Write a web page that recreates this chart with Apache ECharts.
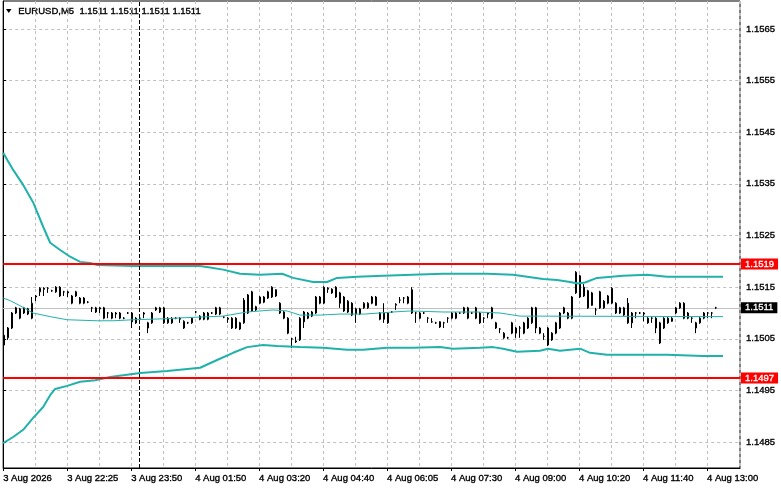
<!DOCTYPE html>
<html>
<head>
<meta charset="utf-8">
<title>EURUSD,M5</title>
<script src="https://cdn.jsdelivr.net/npm/echarts@6/dist/echarts.min.js"></script>
<style>
  html, body { margin: 0; padding: 0; background: #fff; }
  #chart { width: 781px; height: 489px; }
</style>
</head>
<body>
<div id="chart"></div>
<script>
const symbol = "EURUSD";
const timeframe = "M5";
const lastQuote = [1.1511, 1.1511, 1.1511, 1.1511];

const timeLabels = ["3 Aug 2026", "3 Aug 22:25", "3 Aug 23:50", "4 Aug 01:50", "4 Aug 03:20", "4 Aug 04:40",
  "4 Aug 06:05", "4 Aug 07:30", "4 Aug 09:00", "4 Aug 10:20", "4 Aug 11:40", "4 Aug 13:00"];
const priceTicks = [1.1485, 1.1495, 1.1505, 1.1515, 1.1525, 1.1535, 1.1545, 1.1555, 1.1565];

// M5 bars, oldest first
const opens = [
  1.15038, 1.15052, 1.15071, 1.1511, 1.1509, 1.1511, 1.15108, 1.1509, 1.15131, 1.15141,
  1.15148, 1.15148, 1.15143, 1.1515, 1.1515, 1.15141, 1.15141, 1.15119, 1.15141, 1.15119,
  1.15119, 1.15121, 1.1511, 1.15102, 1.1511, 1.1511, 1.151, 1.1509, 1.151, 1.1509,
  1.1509, 1.151, 1.151, 1.1509, 1.1509, 1.15098, 1.15081, 1.15081, 1.15106, 1.15102,
  1.1511, 1.15081, 1.1509, 1.1509, 1.1509, 1.15071, 1.15081, 1.15081, 1.15102, 1.15094,
  1.151, 1.151, 1.151, 1.1511, 1.1511, 1.15092, 1.1509, 1.1509, 1.1509, 1.15081,
  1.15081, 1.151, 1.15141, 1.15112, 1.15131, 1.15131, 1.15129, 1.15131, 1.15145, 1.15119,
  1.1509, 1.1509, 1.1505, 1.15044, 1.15048, 1.15083, 1.151, 1.15094, 1.151, 1.15119,
  1.15119, 1.15146, 1.15146, 1.1515, 1.15139, 1.15131, 1.15102, 1.15119, 1.15108, 1.15108,
  1.1511, 1.1511, 1.15131, 1.15131, 1.151, 1.151, 1.151, 1.15102, 1.15115, 1.15125,
  1.15129, 1.15119, 1.15145, 1.151, 1.151, 1.151, 1.1509, 1.15083, 1.15081, 1.15083,
  1.15081, 1.1509, 1.1509, 1.1509, 1.151, 1.1511, 1.1509, 1.151, 1.1511, 1.151,
  1.1509, 1.15098, 1.1511, 1.15081, 1.15069, 1.15052, 1.15052, 1.15061, 1.15061, 1.15071,
  1.15061, 1.1509, 1.15081, 1.1511, 1.15071, 1.15055, 1.15038, 1.15061, 1.15061, 1.15071,
  1.1511, 1.1509, 1.1509, 1.15139, 1.15172, 1.1515, 1.15143, 1.15139, 1.15106, 1.15141,
  1.15123, 1.15119, 1.15119, 1.15119, 1.1511, 1.15096, 1.15119, 1.151, 1.151, 1.151,
  1.151, 1.1509, 1.1509, 1.1509, 1.15042, 1.15071, 1.1509, 1.15084, 1.151, 1.15119,
  1.15119, 1.151, 1.1509, 1.15081, 1.15081, 1.1509, 1.151, 1.151, 1.1511
];
const closes = [
  1.15057, 1.15071, 1.151, 1.151, 1.15108, 1.151, 1.15098, 1.15119, 1.15133, 1.15148,
  1.15146, 1.15148, 1.15143, 1.15141, 1.15133, 1.15141, 1.15139, 1.15133, 1.15133, 1.15129,
  1.15129, 1.15121, 1.1511, 1.1511, 1.15108, 1.1509, 1.151, 1.151, 1.15098, 1.151,
  1.1509, 1.151, 1.15083, 1.15081, 1.1509, 1.151, 1.15071, 1.151, 1.1511, 1.1511,
  1.15081, 1.1509, 1.15081, 1.1509, 1.15088, 1.15084, 1.15081, 1.1509, 1.15102, 1.15088,
  1.15088, 1.15088, 1.151, 1.15098, 1.15098, 1.15092, 1.15088, 1.15071, 1.15071, 1.15069,
  1.15125, 1.15135, 1.15104, 1.15106, 1.15119, 1.15121, 1.15141, 1.1515, 1.15133, 1.151,
  1.15102, 1.15061, 1.1505, 1.15046, 1.1509, 1.15102, 1.1509, 1.15102, 1.15131, 1.15131,
  1.1515, 1.15148, 1.15139, 1.15131, 1.15119, 1.15104, 1.15123, 1.15096, 1.15098, 1.15098,
  1.15119, 1.15119, 1.15119, 1.15115, 1.15088, 1.15088, 1.15081, 1.15102, 1.15117, 1.15125,
  1.15129, 1.15131, 1.151, 1.151, 1.1509, 1.151, 1.1509, 1.15083, 1.15081, 1.15073,
  1.15081, 1.1509, 1.151, 1.151, 1.151, 1.151, 1.1511, 1.151, 1.1509, 1.15081,
  1.1509, 1.151, 1.1509, 1.15071, 1.15069, 1.15061, 1.15052, 1.15081, 1.15071, 1.15071,
  1.15081, 1.15071, 1.1511, 1.15071, 1.15061, 1.15055, 1.15071, 1.15048, 1.15081, 1.151,
  1.151, 1.151, 1.15131, 1.15179, 1.15131, 1.15133, 1.1511, 1.15115, 1.15106, 1.1511,
  1.1511, 1.15133, 1.15148, 1.151, 1.151, 1.1511, 1.15081, 1.15081, 1.151, 1.151,
  1.15098, 1.15081, 1.1509, 1.15071, 1.15081, 1.1509, 1.15081, 1.1509, 1.1511, 1.1511,
  1.1509, 1.1509, 1.1509, 1.15071, 1.1509, 1.151, 1.151, 1.151, 1.1511
];
const highs = [
  1.15061, 1.15073, 1.15102, 1.15112, 1.1511, 1.15112, 1.1511, 1.15131, 1.15135, 1.1515,
  1.1515, 1.1515, 1.15145, 1.15152, 1.15152, 1.15143, 1.15143, 1.15135, 1.15143, 1.15131,
  1.15131, 1.15123, 1.15112, 1.15112, 1.15112, 1.15112, 1.15102, 1.15102, 1.15102, 1.15102,
  1.15092, 1.15102, 1.15102, 1.15092, 1.15092, 1.15102, 1.15083, 1.15102, 1.15112, 1.15112,
  1.15112, 1.15092, 1.15092, 1.15092, 1.15092, 1.15086, 1.15083, 1.15092, 1.15104, 1.15096,
  1.15102, 1.15102, 1.15102, 1.15112, 1.15112, 1.15094, 1.15092, 1.15092, 1.15092, 1.15083,
  1.15129, 1.15137, 1.15143, 1.15114, 1.15133, 1.15133, 1.15143, 1.15152, 1.15146, 1.15121,
  1.15104, 1.15092, 1.15052, 1.15054, 1.15092, 1.15104, 1.15102, 1.15104, 1.15133, 1.15133,
  1.15152, 1.1515, 1.15148, 1.15152, 1.15141, 1.15133, 1.15125, 1.15121, 1.1511, 1.1511,
  1.15121, 1.15121, 1.15133, 1.15133, 1.15102, 1.15119, 1.15102, 1.15104, 1.15119, 1.15131,
  1.15131, 1.15133, 1.1515, 1.15102, 1.15102, 1.15102, 1.15092, 1.1509, 1.15083, 1.15084,
  1.15083, 1.15092, 1.15102, 1.15102, 1.15102, 1.15112, 1.15112, 1.15102, 1.15112, 1.15102,
  1.15092, 1.15102, 1.15112, 1.15083, 1.15071, 1.15063, 1.15054, 1.15083, 1.15073, 1.15075,
  1.15083, 1.15092, 1.15112, 1.15112, 1.15073, 1.15061, 1.15073, 1.15063, 1.15083, 1.15102,
  1.15112, 1.15102, 1.15133, 1.15181, 1.15174, 1.15156, 1.15145, 1.15141, 1.1511, 1.15143,
  1.15125, 1.15135, 1.1515, 1.15121, 1.15112, 1.15112, 1.15129, 1.15102, 1.15102, 1.15102,
  1.15102, 1.15092, 1.15092, 1.15092, 1.15083, 1.15092, 1.15092, 1.15092, 1.15112, 1.15121,
  1.15121, 1.15102, 1.15092, 1.15083, 1.15092, 1.15102, 1.15102, 1.15102, 1.15112
];
const lows = [
  1.15028, 1.15048, 1.15069, 1.15098, 1.15088, 1.15098, 1.15096, 1.15088, 1.15123, 1.15133,
  1.15133, 1.15139, 1.15141, 1.15139, 1.15131, 1.15133, 1.15131, 1.15117, 1.15131, 1.15117,
  1.15117, 1.15119, 1.15102, 1.151, 1.151, 1.15088, 1.1509, 1.15088, 1.1509, 1.15088,
  1.15088, 1.15098, 1.15071, 1.15079, 1.15088, 1.1509, 1.15061, 1.15079, 1.15104, 1.151,
  1.15079, 1.15079, 1.15079, 1.15088, 1.15081, 1.15069, 1.15079, 1.15079, 1.151, 1.15086,
  1.15086, 1.15086, 1.15098, 1.15096, 1.15096, 1.1509, 1.15081, 1.15069, 1.15069, 1.15067,
  1.15079, 1.15098, 1.15102, 1.15104, 1.15117, 1.15119, 1.15127, 1.15129, 1.15131, 1.15098,
  1.15088, 1.15059, 1.15032, 1.15042, 1.15046, 1.15071, 1.15088, 1.15092, 1.15098, 1.15117,
  1.15117, 1.15139, 1.15137, 1.15129, 1.1511, 1.15102, 1.151, 1.15094, 1.15081, 1.15096,
  1.15108, 1.15108, 1.15117, 1.15114, 1.15086, 1.15081, 1.15079, 1.151, 1.15106, 1.15119,
  1.15119, 1.15117, 1.15098, 1.15081, 1.15088, 1.15098, 1.15081, 1.15081, 1.15079, 1.15071,
  1.15071, 1.15081, 1.15088, 1.15088, 1.15098, 1.15098, 1.15088, 1.15098, 1.15088, 1.15079,
  1.15081, 1.1509, 1.15088, 1.15069, 1.15061, 1.1505, 1.1505, 1.15059, 1.15052, 1.15052,
  1.15059, 1.15069, 1.15079, 1.15061, 1.15059, 1.15048, 1.15036, 1.15046, 1.15059, 1.15069,
  1.15098, 1.15088, 1.15088, 1.15137, 1.15129, 1.15131, 1.15108, 1.15114, 1.15096, 1.15108,
  1.15108, 1.15117, 1.15117, 1.15098, 1.15098, 1.15094, 1.15079, 1.15071, 1.1509, 1.15098,
  1.15084, 1.15079, 1.15081, 1.15061, 1.1504, 1.15069, 1.15079, 1.15083, 1.15098, 1.15108,
  1.15088, 1.15088, 1.15081, 1.15061, 1.15079, 1.15088, 1.1509, 1.1509, 1.15108
];

// Bollinger bands read at [bar index, price]
const upperBand = [[-0.25, 1.1541], [2.25, 1.15377], [4.75, 1.15348], [7.25, 1.15314], [9.75, 1.15267],
  [11.5, 1.15236], [14, 1.15222], [16.5, 1.15209], [19, 1.15199], [21.5, 1.15197], [23.25, 1.15193],
  [32.25, 1.15191], [49, 1.15191], [51.5, 1.15188], [54.75, 1.15184], [59, 1.15176], [64, 1.15174],
  [69.5, 1.15176], [72.25, 1.15168], [77.25, 1.1516], [80.75, 1.1516], [83.25, 1.15168], [88.25, 1.1517],
  [94.75, 1.15172], [102, 1.15174], [109.75, 1.15176], [120.75, 1.15176], [127.25, 1.15174],
  [134.75, 1.15166], [138.25, 1.15164], [141.5, 1.1516], [143.5, 1.15157], [145.25, 1.15159],
  [148.25, 1.15168], [154.75, 1.15172], [160.75, 1.15174], [165.75, 1.1517], [179.75, 1.1517]];
const middleBand = [[-0.25, 1.15129], [1.5, 1.15124], [4, 1.15114], [7.25, 1.151], [11.5, 1.15093],
  [15.75, 1.15087], [23.25, 1.15085], [27.25, 1.15085], [32.25, 1.15087], [40.75, 1.15089],
  [45.25, 1.15091], [54.75, 1.15094], [60.75, 1.15102], [67.25, 1.15106], [70.75, 1.15104], [74, 1.15096],
  [79, 1.15096], [84, 1.15098], [90.25, 1.15098], [97.25, 1.15102], [101.5, 1.15104], [109.75, 1.15102],
  [118.25, 1.15102], [124, 1.151], [129, 1.15094], [134, 1.15094], [179.75, 1.15093]];
const lowerBand = [[-0.25, 1.14848], [2.25, 1.1486], [4.75, 1.14874], [7.25, 1.14897], [9.75, 1.14918],
  [11.5, 1.14941], [12.75, 1.14953], [15.75, 1.14959], [19, 1.14967], [22.75, 1.1497], [26.5, 1.14976],
  [34, 1.14984], [40.75, 1.14988], [49, 1.14994], [53.25, 1.15009], [57.25, 1.15023], [60.75, 1.15034],
  [64.75, 1.15038], [68.25, 1.15036], [74, 1.15034], [79.75, 1.15033], [85.75, 1.15029], [89.75, 1.15029],
  [95.75, 1.15033], [102.25, 1.15033], [109, 1.15034], [112.25, 1.15031], [119, 1.15033], [122.25, 1.15034],
  [124.75, 1.15031], [128.25, 1.15025], [134, 1.15027], [136, 1.15031], [139, 1.15027], [144, 1.15031],
  [146.5, 1.15023], [150.75, 1.15019], [165.75, 1.15019], [174.75, 1.15017], [179.75, 1.15017]];

const levels = [1.15195, 1.14974];
const levelLabels = ["1.1519", "1.1497"];
const currentPrice = 1.1511;
const separatorBar = 33.75;

const font = '"Liberation Sans", Arial, sans-serif';
const gridGray = "#c0c0c0";
const bandColor = "#20b2aa";
const slot = (i) => i + 0.25; // bar 0 sits a quarter slot in from the left edge
const barsVisible = 184.25;
const labelEvery = 16;

// MT4 draws its axis text heavier than plain Arial; a hairline stroke thickens it a little
const axisText = { color: "#000", fontSize: 9.5, fontFamily: font, textBorderColor: "#000", textBorderWidth: 0.35 };

const candles = opens.map((o, i) => [slot(i), o, closes[i], lows[i], highs[i]]);
const toLine = (pts) => pts.map(([i, v]) => [slot(i), v]);
const labelTicks = timeLabels.map((_, k) => k * labelEvery);

const boxLabel = (text, bg) => ({
  show: true,
  position: "end",
  distance: 1,
  formatter: text,
  color: "#fff",
  backgroundColor: bg,
  padding: [1, 4, 0, 4],
  lineHeight: 10,
  fontSize: 9.5,
  fontFamily: font,
  textBorderColor: "#fff",
  textBorderWidth: 0.3,
});

const chart = echarts.init(document.getElementById("chart"), null, { renderer: "canvas" });
chart.setOption({
  animation: false,
  backgroundColor: "#fff",
  textStyle: { fontFamily: font, fontSize: 9.5, color: "#000" },
  grid: { left: 3, right: 41, top: 1, bottom: 21, show: true, borderColor: "#000", borderWidth: 1, backgroundColor: "#fff" },
  xAxis: [
    {
      type: "value", position: "bottom", min: 0, max: barsVisible, interval: labelEvery / 2,
      axisLine: { show: false }, axisTick: { show: false }, axisLabel: { show: false },
      splitLine: { show: true, lineStyle: { color: gridGray, type: [3, 3], width: 1 } },
    },
    {
      type: "value", position: "bottom", min: 0, max: barsVisible,
      axisLine: { show: true, lineStyle: { color: "#000", width: 1 } },
      axisTick: { show: true, length: 3, customValues: labelTicks, lineStyle: { color: "#000" } },
      axisLabel: {
        ...axisText,
        customValues: labelTicks,
        formatter: (v) => timeLabels[Math.round(v / labelEvery)] || "",
        align: "left", margin: 5,
      },
      splitLine: { show: false },
    },
  ],
  yAxis: {
    type: "value", position: "right", min: 1.148, max: 1.15704,
    axisLine: { show: true, lineStyle: { color: "#000" } },
    axisTick: { show: true, length: 3, customValues: priceTicks, lineStyle: { color: "#000" } },
    axisLabel: { ...axisText, customValues: priceTicks, formatter: (v) => v.toFixed(4), margin: 6 },
    splitLine: { show: true, lineStyle: { color: gridGray, type: [3, 3], width: 1 } },
  },
  graphic: [
    { type: "polygon", shape: { points: [[6, 9], [11.5, 9], [8.75, 13]] }, style: { fill: "#000" } },
    {
      type: "text", left: 18, top: 6,
      style: {
        text: `${symbol},${timeframe}  ${lastQuote.map((v) => v.toFixed(4)).join(" ")}`,
        fill: "#000", fontSize: 9.5, fontFamily: font, stroke: "#000", lineWidth: 0.35,
      },
    },
  ],
  series: [
    {
      type: "candlestick", name: "price", silent: true, xAxisIndex: 0, barWidth: 2,
      data: candles,
      itemStyle: { color: "#fff", color0: "#000", borderColor: "#000", borderColor0: "#000", borderWidth: 1 },
      markLine: {
        silent: true, symbol: "none", z: 1, precision: 5,
        data: [{ yAxis: currentPrice, lineStyle: { color: gridGray, type: "solid", width: 1 }, label: boxLabel(currentPrice.toFixed(4), "#000") }],
      },
    },
    { type: "line", name: "upper", data: toLine(upperBand), showSymbol: false, silent: true, z: 3, lineStyle: { color: bandColor, width: 2 } },
    { type: "line", name: "middle", data: toLine(middleBand), showSymbol: false, silent: true, z: 3, lineStyle: { color: bandColor, width: 1 } },
    {
      type: "line", name: "lower", data: toLine(lowerBand), showSymbol: false, silent: true, z: 3, lineStyle: { color: bandColor, width: 2 },
      markLine: {
        silent: true, symbol: "none", z: 6, precision: 5,
        data: [
          ...levels.map((v, k) => ({ yAxis: v, lineStyle: { color: "#ff0000", type: "solid", width: 2 }, label: boxLabel(levelLabels[k], "#ff0000") })),
          { xAxis: slot(separatorBar), lineStyle: { color: "#000", type: [4, 2], width: 1 }, label: { show: false } },
        ],
      },
    },
  ],
});
</script>
</body>
</html>
